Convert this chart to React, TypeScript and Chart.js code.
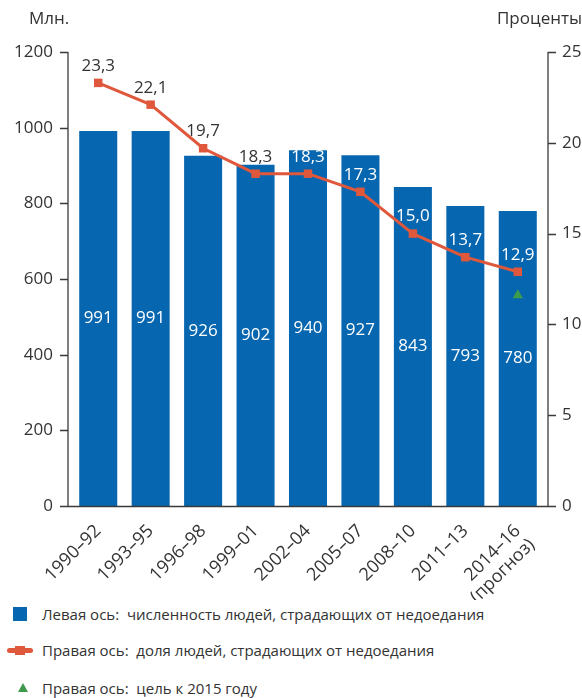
import React, { useEffect, useRef } from "react";
import { Chart, registerables } from "chart.js";

Chart.register(...registerables);

const categories: (string | string[])[] = [
  "1990–92", "1993–95", "1996–98", "1999–01", "2002–04",
  "2005–07", "2008–10", "2011–13", ["2014–16", "(прогноз)"],
];
const undernourishedMillions = [991, 991, 926, 902, 940, 927, 843, 793, 780];
const prevalencePercent = [23.3, 22.1, 19.7, 18.3, 18.3, 17.3, 15.0, 13.7, 12.9];
const target2015 = [null, null, null, null, null, null, null, null, 11.6];
const leftTickValues = [0, 200, 400, 600, 800, 1000, 1200];
const rightTickValues = [0, 5, 10, 15, 20, 25];
const leftTitle = "Млн.";
const rightTitle = "Проценты";
const legendLabels = [
  "Левая ось:  численность людей, страдающих от недоедания",
  "Правая ось:  доля людей, страдающих от недоедания",
  "Правая ось:  цель к 2015 году",
];

const BLUE = "#0666b0";
const RED = "#e0583c";
const GREEN = "#3d9b4c";
const TEXT = "#333333";
const FONT = "'Open Sans', 'Noto Sans', sans-serif";

const fmt = (v: number) => v.toFixed(1).replace(".", ",");

const decorPlugin = {
  id: "decor",
  afterDatasetsDraw(chart: any) {
    const ctx = chart.ctx;
    const barMeta = chart.getDatasetMeta(0);
    const lineMeta = chart.getDatasetMeta(1);
    ctx.save();
    ctx.font = `17px ${FONT}`;
    ctx.textAlign = "center";
    ctx.textBaseline = "middle";
    barMeta.data.forEach((el: any, i: number) => {
      const mid = (el.y + el.base) / 2;
      ctx.fillStyle = "#ffffff";
      ctx.fillText(String(undernourishedMillions[i]), el.x, mid);
    });
    lineMeta.data.forEach((pt: any, i: number) => {
      const ly = pt.y - 17;
      const barTop = barMeta.data[i].y;
      ctx.fillStyle = ly - 4 > barTop ? "#ffffff" : TEXT;
      ctx.fillText(fmt(prevalencePercent[i]), pt.x, ly);
    });
    ctx.restore();
  },
  afterDraw(chart: any) {
    const ctx = chart.ctx;
    const area = chart.chartArea;
    const yL = chart.scales.y;
    const yR = chart.scales.y1;
    const lx = area.left - 4;
    const rx = area.right + 4;
    const topL = yL.getPixelForValue(leftTickValues[leftTickValues.length - 1]);
    const topR = yR.getPixelForValue(rightTickValues[rightTickValues.length - 1]);
    ctx.save();
    ctx.strokeStyle = "#3a3a3a";
    ctx.lineWidth = 1.3;
    ctx.beginPath();
    ctx.moveTo(lx, topL);
    ctx.lineTo(lx, area.bottom);
    ctx.moveTo(rx, topR);
    ctx.lineTo(rx, area.bottom);
    leftTickValues.forEach((v) => {
      const py = Math.round(yL.getPixelForValue(v)) + 0.5;
      ctx.moveTo(lx - 8, py);
      ctx.lineTo(lx, py);
    });
    rightTickValues.forEach((v) => {
      const py = Math.round(yR.getPixelForValue(v)) + 0.5;
      ctx.moveTo(rx, py);
      ctx.lineTo(rx + 8, py);
    });
    ctx.moveTo(lx - 8, area.bottom + 0.5);
    ctx.lineTo(rx + 8, area.bottom + 0.5);
    ctx.stroke();

    ctx.fillStyle = TEXT;
    ctx.font = `17px ${FONT}`;
    ctx.textBaseline = "middle";
    ctx.textAlign = "right";
    leftTickValues.forEach((v) => {
      ctx.fillText(String(v), lx - 15, yL.getPixelForValue(v));
    });
    ctx.textAlign = "left";
    rightTickValues.forEach((v) => {
      ctx.fillText(String(v), rx + 14, yR.getPixelForValue(v));
    });
    ctx.textAlign = "center";
    ctx.fillText(leftTitle, 49, 19);
    ctx.textAlign = "right";
    ctx.fillText(rightTitle, 582, 19);
    ctx.restore();
  },
};

export default function App() {
  const ref = useRef<HTMLCanvasElement | null>(null);
  useEffect(() => {
    if (!ref.current) return;
    const chart = new Chart(ref.current, {
      type: "bar",
      data: {
        labels: categories as any,
        datasets: [
          {
            type: "bar",
            data: undernourishedMillions,
            backgroundColor: BLUE,
            yAxisID: "y",
            barPercentage: 0.725,
            categoryPercentage: 1,
            order: 3,
          },
          {
            type: "line",
            data: prevalencePercent,
            borderColor: RED,
            backgroundColor: RED,
            borderWidth: 3,
            pointStyle: "rect",
            pointRadius: 6,
            pointBorderWidth: 0,
            yAxisID: "y1",
            order: 2,
          } as any,
          {
            type: "line",
            data: target2015,
            showLine: false,
            pointStyle: "triangle",
            pointRadius: 6,
            pointBorderWidth: 0,
            backgroundColor: GREEN,
            borderColor: GREEN,
            yAxisID: "y1",
            order: 1,
          } as any,
        ],
      },
      options: {
        responsive: false,
        animation: false,
        layout: { padding: { top: 52, left: 0, right: 0, bottom: 0 } },
        plugins: { legend: { display: false }, tooltip: { enabled: false } },
        scales: {
          x: {
            offset: true,
            grid: { display: false },
            border: { display: false },
            ticks: {
              autoSkip: false,
              minRotation: 45,
              maxRotation: 45,
              padding: 7,
              color: TEXT,
              font: { family: FONT, size: 18, lineHeight: 1.1 },
            },
            afterFit: (s: any) => { s.height = 94; },
          },
          y: {
            position: "left",
            min: 0,
            max: 1200,
            grid: { display: false },
            border: { display: false },
            ticks: { display: false, stepSize: 200 },
            afterFit: (s: any) => { s.width = 72; },
          },
          y1: {
            position: "right",
            min: 0,
            max: 25,
            grid: { display: false },
            border: { display: false },
            ticks: { display: false, stepSize: 5 },
            afterFit: (s: any) => { s.width = 38; },
          },
        },
      } as any,
      plugins: [decorPlugin],
    });
    return () => chart.destroy();
  }, []);

  const textStyle: React.CSSProperties = {
    position: "absolute",
    left: 42,
    fontFamily: FONT,
    fontSize: 15,
    color: TEXT,
    lineHeight: "20px",
    whiteSpace: "pre",
  };

  return (
    <div style={{ position: "absolute", left: 0, top: 0, width: 582, height: 698, background: "#fff" }}>
      <canvas ref={ref} width={582} height={600} style={{ display: "block" }} />
      <div style={{ position: "absolute", left: 13, top: 607, width: 14, height: 14, background: BLUE }} />
      <div style={{ ...textStyle, top: 604 }}>{legendLabels[0]}</div>
      <div style={{ position: "absolute", left: 7, top: 648, width: 26, height: 5, borderRadius: 3, background: RED }} />
      <div style={{ position: "absolute", left: 15, top: 646, width: 10, height: 9, background: RED }} />
      <div style={{ ...textStyle, top: 640 }}>{legendLabels[1]}</div>
      <div
        style={{
          position: "absolute", left: 18, top: 683, width: 0, height: 0,
          borderLeft: "5px solid transparent", borderRight: "5px solid transparent",
          borderBottom: "9px solid " + GREEN,
        }}
      />
      <div style={{ ...textStyle, top: 678 }}>{legendLabels[2]}</div>
    </div>
  );
}
